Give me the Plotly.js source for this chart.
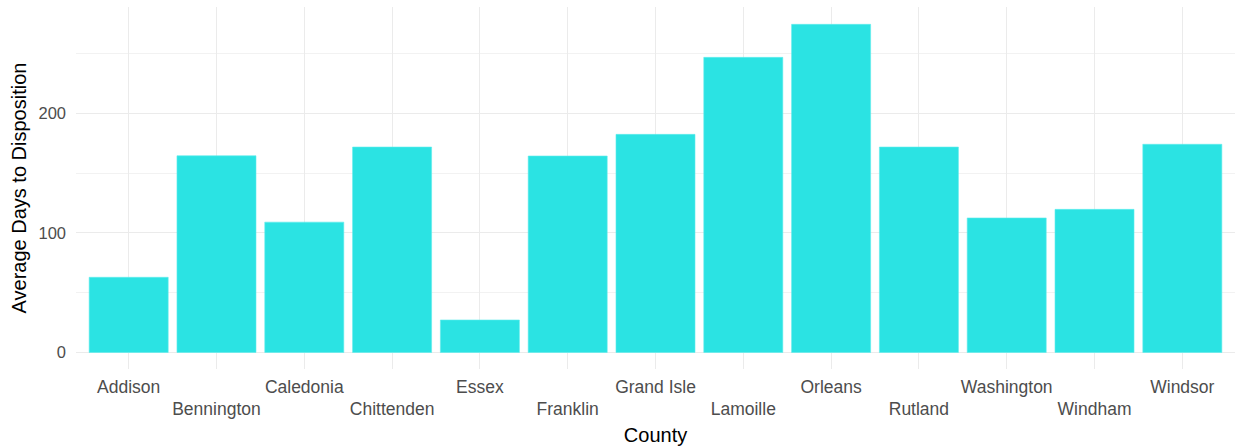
<!DOCTYPE html>
<html>
<head>
<meta charset="utf-8">
<script src="https://cdn.plot.ly/plotly-3.0.1.min.js"></script>
<style>html,body{margin:0;padding:0;background:#fff;}#chart{width:1235px;height:447px;}</style>
</head>
<body>
<div id="chart"></div>
<script>
const counties = ["Addison","Bennington","Caledonia","Chittenden","Essex","Franklin","Grand Isle","Lamoille","Orleans","Rutland","Washington","Windham","Windsor"];
const avgDays = [62.9, 164.5, 109, 171.8, 27.2, 164.3, 182.4, 246.8, 274.4, 171.8, 112.5, 119.7, 174.1];
const tickLabels = counties.map((c, i) => i % 2 === 1 ? "<br>" + c : c);

const trace = {
  type: "bar",
  x: counties,
  y: avgDays,
  marker: {color: "#2BE3E3", line: {color: "#5FEDED", width: 0.6}},
  width: 0.9,
  hoverinfo: "x+y"
};

const layout = {
  width: 1235, height: 447,
  margin: {l: 76, r: 0, t: 7, b: 78},
  paper_bgcolor: "#fff", plot_bgcolor: "#fff",
  font: {family: "Liberation Sans, Arial, sans-serif"},
  showlegend: false,
  xaxis: {
    type: "category",
    categoryorder: "array", categoryarray: counties,
    tickmode: "array", tickvals: counties, ticktext: tickLabels,
    range: [-0.6, 12.6],
    showgrid: true, gridcolor: "#EBEBEB", gridwidth: 1.1,
    zeroline: false, showline: false, ticks: "",
    tickfont: {size: 17.5, color: "#4D4D4D"},
    ticklabelstandoff: 5,
    title: {text: "County", font: {size: 20, color: "#000"}, standoff: 9}
  },
  yaxis: {
    range: [-13.8, 288.9],
    tickvals: [0, 100, 200],
    showgrid: true, gridcolor: "#EBEBEB", gridwidth: 1.1,
    minor: {tickvals: [50, 150, 250], showgrid: true, gridcolor: "#EFEFEF", gridwidth: 0.8},
    zeroline: false, showline: false, ticks: "",
    tickfont: {size: 16.5, color: "#4D4D4D"},
    ticklabelstandoff: 9,
    title: {text: "Average Days to Disposition", font: {size: 20, color: "#000"}, standoff: 6}
  }
};

Plotly.newPlot("chart", [trace], layout, {displayModeBar: false, staticPlot: true});
</script>
</body>
</html>
